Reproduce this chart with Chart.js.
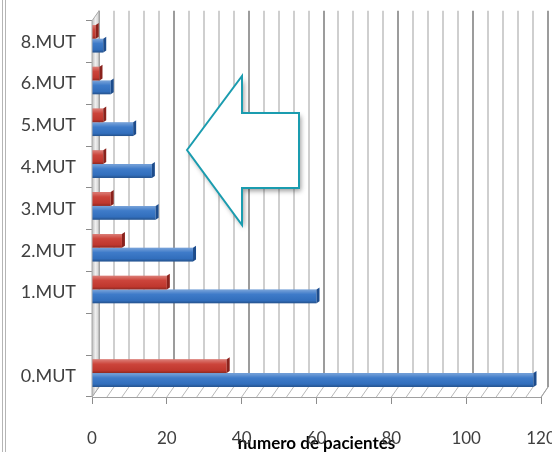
<!DOCTYPE html>
<html>
<head>
<meta charset="utf-8">
<script src="https://cdn.jsdelivr.net/npm/chart.js@4"></script>
<style>
  html, body { margin: 0; padding: 0; background: #fff; }
</style>
</head>
<body>
<canvas id="myChart" width="552" height="452"></canvas>
<script>
// filas de abajo hacia arriba (la fila en blanco va vacia)
const mutaciones = ['0.MUT', '', '1.MUT', '2.MUT', '3.MUT', '4.MUT', '5.MUT', '6.MUT', '8.MUT'];
const serieRoja = [36, null, 20, 8, 5, 3, 3, 2, 1];
const serieAzul = [118, null, 60, 27, 17, 16, 11, 5, 3];
const ticksX = [0, 20, 40, 60, 80, 100, 120];

// profundidad del efecto 3D
const DX = 7, DY = -10;

// pared izquierda, pared del fondo con rejilla y suelo rayado
const paredes = {
  id: 'paredes',
  beforeDatasetsDraw(chart) {
    const { ctx, chartArea: a, scales: { x } } = chart;
    ctx.save();

    x.ticks.forEach(t => {
      const px = Math.round(x.getPixelForValue(t.value) + DX);
      ctx.strokeStyle = t.value % 20 === 0 ? '#9c9c9c' : '#cfcfcf';
      ctx.lineWidth = 2;
      ctx.beginPath();
      ctx.moveTo(px, a.top + DY);
      ctx.lineTo(px, a.bottom + DY);
      ctx.stroke();
    });

    // suelo
    ctx.strokeStyle = '#b8b8b8';
    ctx.lineWidth = 1;
    x.ticks.forEach(t => {
      const px = x.getPixelForValue(t.value);
      ctx.beginPath();
      ctx.moveTo(px, a.bottom);
      ctx.lineTo(px + DX, a.bottom + DY);
      ctx.stroke();
    });
    ctx.strokeStyle = '#a0a0a0';
    ctx.beginPath();
    ctx.moveTo(a.left, a.bottom + 0.5);
    ctx.lineTo(a.right, a.bottom + 0.5);
    ctx.lineTo(a.right + DX, a.bottom + DY);
    ctx.stroke();

    // pared izquierda
    const g = ctx.createLinearGradient(a.left, 0, a.left + DX, 0);
    g.addColorStop(0, '#bcbcbc');
    g.addColorStop(0.5, '#efefef');
    g.addColorStop(1, '#cfcfcf');
    ctx.fillStyle = g;
    ctx.beginPath();
    ctx.moveTo(a.left, a.top);
    ctx.lineTo(a.left + DX, a.top + DY);
    ctx.lineTo(a.left + DX, a.bottom + DY);
    ctx.lineTo(a.left, a.bottom);
    ctx.closePath();
    ctx.fill();
    ctx.strokeStyle = '#a8a8a8';
    ctx.stroke();
    ctx.restore();

    // las barras quedan a media profundidad
    ctx.save();
    ctx.translate(0, -3);
  },
  afterDatasetsDraw(chart) {
    const ctx = chart.ctx;
    const caras = ['#8a221c', '#1d4c8c'];
    chart.data.datasets.forEach((ds, i) => {
      chart.getDatasetMeta(i).data.forEach((bar, j) => {
        if (ds.data[j] == null) return;
        const { x, y, base, height } = bar.getProps(['x', 'y', 'base', 'height'], true);
        const top = y - height / 2, bot = y + height / 2;
        // brillo de cilindro
        const g = ctx.createLinearGradient(0, top, 0, bot);
        g.addColorStop(0, 'rgba(255,255,255,0.35)');
        g.addColorStop(0.35, 'rgba(255,255,255,0.05)');
        g.addColorStop(0.8, 'rgba(0,0,0,0.05)');
        g.addColorStop(1, 'rgba(0,0,0,0.3)');
        ctx.fillStyle = g;
        ctx.fillRect(base, top, x - base, height);
        // cara del extremo
        ctx.fillStyle = caras[i];
        ctx.beginPath();
        ctx.moveTo(x, top);
        ctx.lineTo(x + 3, top - 2);
        ctx.lineTo(x + 3, bot - 2);
        ctx.lineTo(x, bot);
        ctx.closePath();
        ctx.fill();
      });
    });
    ctx.restore();
  }
};

// flecha y borde del grafico
const flecha = {
  id: 'flecha',
  afterDraw(chart) {
    const ctx = chart.ctx;
    ctx.save();
    ctx.strokeStyle = '#b5b5b5';
    ctx.lineWidth = 1;
    [2.5, 5.5].forEach(px => {
      ctx.beginPath();
      ctx.moveTo(px, 0);
      ctx.lineTo(px, chart.height);
      ctx.stroke();
    });

    const pts = [[187, 150], [242, 76], [242, 113], [299, 113], [299, 188], [242, 188], [242, 225]];
    ctx.beginPath();
    pts.forEach((p, k) => k ? ctx.lineTo(p[0], p[1]) : ctx.moveTo(p[0], p[1]));
    ctx.closePath();
    ctx.shadowColor = 'rgba(0,0,0,0.4)';
    ctx.shadowBlur = 5;
    ctx.shadowOffsetX = 2;
    ctx.shadowOffsetY = 3;
    ctx.fillStyle = '#ffffff';
    ctx.fill();
    ctx.shadowColor = 'transparent';
    ctx.strokeStyle = '#1a9caf';
    ctx.lineWidth = 2;
    ctx.lineJoin = 'miter';
    ctx.stroke();
    ctx.restore();
  }
};

const ctx = document.getElementById('myChart').getContext('2d');
const myChart = new Chart(ctx, {
  type: 'bar',
  data: {
    labels: mutaciones,
    datasets: [
      { label: 'serie roja', data: serieRoja, backgroundColor: '#c93a30', categoryPercentage: 0.66, barPercentage: 1 },
      { label: 'serie azul', data: serieAzul, backgroundColor: '#3474c6', categoryPercentage: 0.66, barPercentage: 1 }
    ]
  },
  options: {
    indexAxis: 'y',
    responsive: false,
    animation: false,
    layout: { padding: { top: 19, right: 11, bottom: 0, left: 0 } },
    plugins: {
      legend: { display: false },
      tooltip: { enabled: false }
    },
    scales: {
      y: {
        reverse: true,
        afterFit(s) { s.width = 92; },
        border: { display: false },
        grid: { drawOnChartArea: false, offset: true, tickLength: 6, color: '#8c8c8c' },
        ticks: { padding: 10, color: '#404040', font: { family: 'Lato', size: 18 } }
      },
      x: {
        min: 0,
        max: 120,
        // la etiqueta 120 puede salirse por la derecha
        afterFit(s) { s.height = 55; s.paddingLeft = 0; s.paddingRight = 0; },
        border: { display: false },
        grid: {
          drawOnChartArea: false,
          tickLength: 7,
          color: c => (c.tick && ticksX.includes(c.tick.value)) ? '#8c8c8c' : 'rgba(0,0,0,0)'
        },
        ticks: {
          stepSize: 4,
          autoSkip: false,
          maxRotation: 0,
          padding: 24,
          color: '#404040',
          font: { family: 'Lato', size: 17 },
          callback: v => ticksX.includes(v) ? v : ''
        },
        title: {
          display: true,
          text: 'numero de pacientes',
          color: '#000',
          padding: 0,
          font: { family: 'Lato', size: 17, weight: 'bold', lineHeight: 1 }
        }
      }
    }
  },
  plugins: [paredes, flecha]
});
</script>
</body>
</html>
